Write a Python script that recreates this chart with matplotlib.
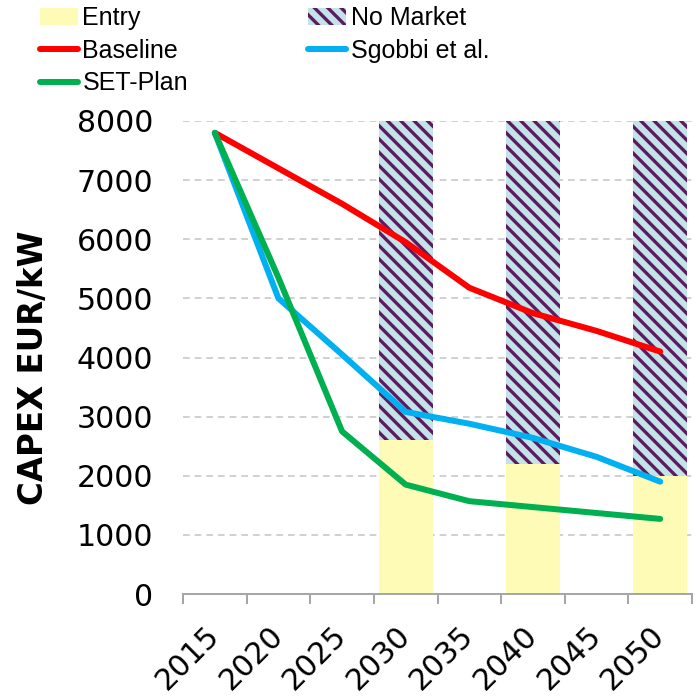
import matplotlib.pyplot as plt
import matplotlib.patches as mpatches
import matplotlib.lines as mlines
import numpy as np

years = ["2015", "2020", "2025", "2030", "2035", "2040", "2045", "2050"]
baseline = [7800, 7200, 6600, 5950, 5180, 4750, 4450, 4100]
sgobbi = [7800, 5000, 4050, 3080, 2880, 2640, 2320, 1900]
setplan = [7800, 5350, 2750, 1850, 1570, 1470, 1370, 1270]

bar_years = ["2030", "2040", "2050"]
entry = [2600, 2200, 2000]
no_market = [5400, 5800, 6000]

red = "#ff0000"
blue = "#00b0f0"
green = "#00b050"
yellow = "#fdfbb6"
hatch_bg = "#c3e3e8"
purple = "#5e1a60"

plt.rcParams["hatch.linewidth"] = 2.0

dpi = 120
fig = plt.figure(figsize=(700 / dpi, 698 / dpi), dpi=dpi)
ax = fig.add_axes([183 / 700, 1 - 594 / 698, (692 - 183) / 700, (594 - 121) / 698])

x = np.arange(len(years))
bx = [years.index(y) for y in bar_years]
ax.bar(bx, entry, width=0.85, color=yellow, linewidth=0, zorder=2)
ax.bar(bx, no_market, bottom=entry, width=0.85, color=hatch_bg,
       edgecolor=purple, hatch="\\\\\\", linewidth=0, zorder=2)

ax.plot(x, baseline, color=red, lw=3.6, solid_capstyle="round", solid_joinstyle="round", zorder=3)
ax.plot(x, sgobbi, color=blue, lw=3.6, solid_capstyle="round", solid_joinstyle="round", zorder=3)
ax.plot(x, setplan, color=green, lw=3.6, solid_capstyle="round", solid_joinstyle="round", zorder=4)

ax.set_xlim(-0.5, len(years) - 0.5)
ax.set_ylim(0, 8000)
ax.set_yticks(np.arange(0, 8001, 1000))
ax.yaxis.grid(True, color="#c8c8c8", linestyle=(0, (4, 3)), linewidth=1.0)
ax.set_axisbelow(True)

for s in ["top", "right", "left"]:
    ax.spines[s].set_visible(False)
ax.spines["bottom"].set_color("#a6a6a6")
ax.spines["bottom"].set_linewidth(1.2)

ax.tick_params(axis="y", length=0, pad=18, labelsize=18)
ax.set_xticks(x)
ax.set_xticklabels(years, rotation=45, ha="right", va="center", rotation_mode="anchor")
ax.tick_params(axis="x", which="major", length=0, pad=22, labelsize=18)
ax.set_xticks(np.arange(-0.5, len(years)), minor=True)
ax.tick_params(axis="x", which="minor", length=6, width=1.2, color="#a6a6a6")

ax.set_ylabel("CAPEX EUR/kW", fontsize=19.5, fontweight="bold")
ax.yaxis.set_label_coords(-0.262, 0.478)

handles = [
    mpatches.Patch(facecolor=yellow, linewidth=0),
    mlines.Line2D([], [], color=red, lw=3.6, solid_capstyle="round"),
    mlines.Line2D([], [], color=green, lw=3.6, solid_capstyle="round"),
    mpatches.Patch(facecolor=hatch_bg, edgecolor=purple, hatch="\\\\\\", linewidth=0),
    mlines.Line2D([], [], color=blue, lw=3.6, solid_capstyle="round"),
]
labels = ["Entry", "Baseline", "SET-Plan", "No Market", "Sgobbi et al."]
fig.legend(handles, labels, ncol=2, loc="upper left", bbox_to_anchor=(40 / 700, 1 - 6 / 698),
           frameon=False, borderpad=0, borderaxespad=0, handlelength=1.5, handletextpad=0.2,
           columnspacing=4.8, labelspacing=0.35,
           prop={"family": "Liberation Sans", "size": 15})

fig.savefig("out.png", dpi=dpi)
